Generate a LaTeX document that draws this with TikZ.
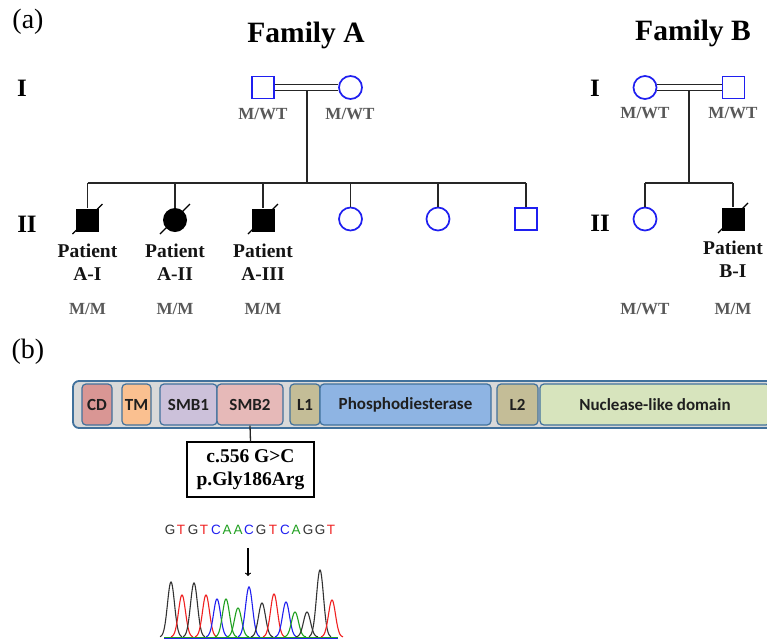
\documentclass[tikz,border=0pt]{standalone}
\usepackage{fontspec}
\setmainfont{Liberation Serif}
\newfontfamily\calfont{Carlito}
\newfontfamily\arialfont{Liberation Sans}
\usetikzlibrary{calc}
\definecolor{pblue}{HTML}{1F1FF0}
\definecolor{dblue}{HTML}{41719C}
\definecolor{barbg}{HTML}{D9D9D9}
\definecolor{cdcol}{HTML}{D99694}
\definecolor{tmcol}{HTML}{FAC090}
\definecolor{smbone}{HTML}{CCC1DA}
\definecolor{smbtwo}{HTML}{E6B9B8}
\definecolor{lcol}{HTML}{C4BD97}
\definecolor{pdcol}{HTML}{8EB4E3}
\definecolor{nucol}{HTML}{D7E4BD}
\definecolor{gk}{HTML}{333333}
\definecolor{tr}{HTML}{F02020}
\definecolor{cb}{HTML}{2020F0}
\definecolor{ag}{HTML}{20A020}
\tikzset{
  ped/.style={line width=1.3pt, draw=black!85},
  male/.style={rectangle, draw=pblue, line width=1.7pt, minimum size=22pt, inner sep=0pt, fill=white},
  female/.style={circle, draw=pblue, line width=1.7pt, minimum size=23pt, inner sep=0pt, fill=white},
  amale/.style={rectangle, fill=black, minimum size=23pt, inner sep=0pt},
  afemale/.style={circle, fill=black, minimum size=24pt, inner sep=0pt},
  deceased/.style={line width=1.3pt, draw=black},
  geno/.style={font=\fontsize{17}{17}\selectfont\bfseries, text=black!65, inner sep=0pt},
  pat/.style={font=\fontsize{19.5}{23}\selectfont\bfseries, align=center, inner sep=0pt, text=black!92},
  gen/.style={font=\fontsize{25}{25}\selectfont\bfseries, inner sep=0pt},
  fam/.style={font=\fontsize{29.5}{29.5}\selectfont\bfseries, inner sep=0pt},
  panel/.style={font=\fontsize{28}{28}\selectfont, inner sep=0pt},
  dom/.style={rectangle, rounded corners=4pt, draw=dblue, line width=1.2pt, minimum height=41pt, inner sep=0pt, font=\calfont\fontsize{17}{17}\selectfont\bfseries, text=black!88},
  seq/.style={font=\arialfont\fontsize{13.5}{13.5}\selectfont, inner sep=0pt},
  peak/.style={line width=1.1pt}
}
\begin{document}
\begin{tikzpicture}[x=1pt,y=-1pt]
\clip (0,0) rectangle (767,641);
\fill[white] (0,0) rectangle (767,641);

% ---------- panel labels and titles
\node[panel] (pa) at (28,22) {(a)};
\node[panel] (pb) at (28,352) {(b)};
\node[fam] (famA) at (306,35) {Family A};
\node[fam] (famB) at (693,33) {Family B};

% ---------- Family A
\node[gen] (gAI) at (22,88) {I};
\node[gen] (gAII) at (27,224) {II};
\node[male] (fa) at (263,87.5) {};
\node[female] (ma) at (350.5,87.5) {};
\draw[ped] ([yshift=3.2pt]fa.east) -- ([yshift=3.2pt]ma.west);
\draw[ped] ([yshift=-3.2pt]fa.east) -- ([yshift=-3.2pt]ma.west);
\coordinate (dA) at (307,90.7);
\coordinate (sA) at (307,183);
\draw[ped] (dA) -- (sA);
\node[geno] (gfa) at (263,114) {M/WT};
\node[geno] (gma) at (350,114) {M/WT};

\coordinate (s1) at (87.5,183);
\coordinate (s2) at (175,183);
\coordinate (s3) at (263,183);
\coordinate (s4) at (350.5,183);
\coordinate (s5) at (438,183);
\coordinate (s6) at (526,183);
\draw[ped] (s1) -- (s6);

\node[amale] (c1) at (87.5,220) {};
\node[afemale] (c2) at (175,220) {};
\node[amale] (c3) at (263,220) {};
\node[female] (c4) at (350.5,219) {};
\node[female] (c5) at (438,219) {};
\node[male] (c6) at (526,219) {};
\foreach \i in {1,...,6} \draw[ped] (s\i) -- (c\i.north);
\foreach \i in {1,2,3}
  \draw[deceased] ($(c\i.center)+(-15,14)$) -- ($(c\i.center)+(15,-16)$);

\node[pat] (p1) at (87.5,262) {Patient\\A-I};
\node[pat] (p2) at (175,262) {Patient\\A-II};
\node[pat] (p3) at (263,262) {Patient\\A-III};
\node[geno] (g1) at (87.5,309) {M/M};
\node[geno] (g2) at (175,309) {M/M};
\node[geno] (g3) at (263,309) {M/M};

% ---------- Family B
\node[gen] (gBI) at (595,88) {I};
\node[gen] (gBII) at (600,223) {II};
\node[female] (mb) at (645,87.5) {};
\node[male] (fb) at (733.5,87.5) {};
\draw[ped] ([yshift=3.2pt]mb.east) -- ([yshift=3.2pt]fb.west);
\draw[ped] ([yshift=-3.2pt]mb.east) -- ([yshift=-3.2pt]fb.west);
\coordinate (dB) at (689,90.7);
\coordinate (sB) at (689,183);
\draw[ped] (dB) -- (sB);
\node[geno] (gmb) at (645,113) {M/WT};
\node[geno] (gfb) at (733,113) {M/WT};
\coordinate (t1) at (645,183);
\coordinate (t2) at (733,183);
\draw[ped] (t1) -- (t2);
\node[female] (b1) at (645,219) {};
\node[amale] (b2) at (733,219) {};
\draw[ped] (t1) -- (b1.north);
\draw[ped] (t2) -- (b2.north);
\draw[deceased] ($(b2.center)+(-15,14)$) -- ($(b2.center)+(15,-16)$);
\node[pat] (pb1) at (733,259) {Patient\\B-I};
\node[geno] (gb1) at (645,309) {M/WT};
\node[geno] (gb2) at (733,309) {M/M};

% ---------- protein bar
\draw[fill=barbg, draw=dblue, line width=1.8pt, rounded corners=6pt] (73,381) rectangle (790,428);
\node[dom, fill=cdcol, minimum width=30pt] (cd) at (97,404.5) {CD};
\node[dom, fill=tmcol, minimum width=29pt] (tm) at (136.5,404.5) {TM};
\node[dom, fill=smbone, minimum width=57pt] (smb1) at (188.5,404.5) {SMB1};
\node[dom, fill=smbtwo, minimum width=66pt] (smb2) at (250,404.5) {SMB2};
\node[dom, fill=lcol, minimum width=30pt] (l1) at (305,404.5) {L1};
\node[dom, fill=pdcol, minimum width=171pt] (pd) at (405.5,404.5) {Phosphodiesterase};
\node[dom, fill=lcol, minimum width=41pt] (l2) at (517.5,404.5) {L2};
\node[dom, fill=nucol, minimum width=230pt] (nu) at (655,404.5) {Nuclease-like domain};

% ---------- mutation box
\node[draw, line width=1.3pt, minimum width=127pt, minimum height=55pt, align=center,
      font=\fontsize{19.5}{23}\selectfont\bfseries, inner sep=0pt] (mut) at (250.5,469.5) {c.556 G>C\\p.Gly186Arg};
\draw[ped] (smb2.south) -- (mut.north);

% ---------- sequence and chromatogram
\foreach \px/\ch/\c [count=\k] in {170/G/gk,181/T/tr,193/G/gk,204/T/tr,216/C/cb,227/A/ag,238/A/ag,249/C/cb,261/G/gk,273/T/tr,285/C/cb,296/A/ag,308/G/gk,320/G/gk,331/T/tr}
  \node[seq, text=\c] (q\k) at (\px,530) {\ch};
\coordinate (arT) at (248,548);
\coordinate (arB) at (248,576);
\draw[line width=1.2pt, ->] (arT) -- (arB);

\draw[ag, line width=0.9pt] (164,637.5) -- (338,637.5);
\draw[cb, line width=0.9pt] (164,638.5) -- (338,638.5);
\foreach \px/\py/\c in {171/582/gk,182/595/tr,194/583/gk,206/595/tr,217/599/cb,226/599/ag,238/608/ag,249/587/cb,262/603/gk,274/594/tr,286/602/cb,295/612/ag,307/612/gk,320/570/gk,332/600/tr}
  \draw[\c, peak] plot[domain=-11:11, samples=45, smooth] ({\px+\x},{637-(637-\py)*exp(-(\x*\x)/(2*3.5*3.5))});
\end{tikzpicture}
\end{document}
